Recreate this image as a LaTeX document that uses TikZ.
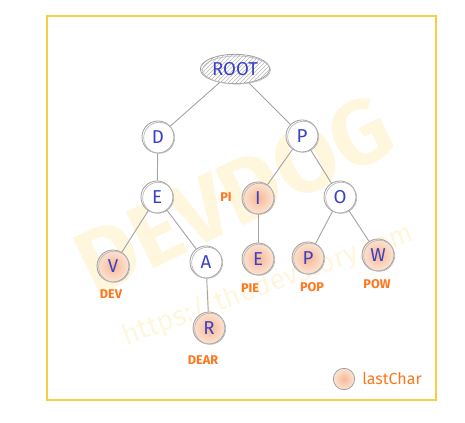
\documentclass[tikz,border=0pt]{standalone}
\usepackage{fontspec}
\setmainfont{Fira Sans}
\usetikzlibrary{shapes.geometric,patterns}

\definecolor{lettercol}{RGB}{58,64,200}
\definecolor{labelcol}{RGB}{255,118,28}
\definecolor{framecol}{RGB}{250,205,70}
\definecolor{edgecol}{RGB}{165,165,165}
\definecolor{markcol}{RGB}{255,246,222}

\tikzset{
  trienode/.style={circle, draw=gray!75, line width=0.6pt, minimum size=24pt, inner sep=0pt, fill=white, text=lettercol, font=\fontsize{14}{14}\selectfont},
  endnode/.style={trienode, inner color={rgb,255:red,247;green,184;blue,148}, outer color={rgb,255:red,252;green,228;blue,212}},
  rootnode/.style={ellipse, draw=gray!75, line width=0.6pt, minimum width=52pt, minimum height=22pt, inner sep=0pt, pattern=north east lines, pattern color=gray!55, text=lettercol, font=\fontsize{14}{14}\selectfont},
  wordlabel/.style={text=labelcol, inner sep=0.75pt, font=\fontsize{9.5}{9.5}\selectfont\bfseries},
  edge/.style={draw=edgecol, line width=0.7pt},
  sketch/.style={draw=gray!55, line width=0.5pt},
}

\begin{document}
\begin{tikzpicture}[x=0.75pt,y=0.75pt,yscale=-1,xscale=1]
\useasboundingbox (0,0) rectangle (465,423);

% Watermark
\node[rotate=26, text=markcol, font=\fontsize{68}{68}\selectfont\bfseries] (mark) at (234,195) {DEVDOG};
\node[rotate=20, text=markcol, font=\fontsize{21}{21}\selectfont] (url) at (268,285) {https://thedevstory.com};

%Shape: Frame
\draw[framecol, line width=1.1pt] (47,16) rectangle (436,400);

% Nodes
\node[rootnode] (root) at (235,69) {ROOT};
\node[trienode] (d) at (158,137) {D};
\node[trienode] (p) at (302,136) {P};
\node[trienode] (e) at (157,197) {E};
\node[endnode] (i) at (258,198) {I};
\node[trienode] (o) at (340,197) {O};
\node[endnode] (v) at (113,266) {V};
\node[trienode] (a) at (206,262) {A};
\node[endnode] (e2) at (258,259) {E};
\node[endnode] (p2) at (308,258) {P};
\node[endnode] (w) at (378,255) {W};
\node[endnode] (r) at (209,328) {R};

% Sketchy second strokes
\draw[sketch] ([shift={(1.5,1)}]root.center) ellipse (34 and 14);
\foreach \n in {d,p,e,i,o,v,a,e2,p2,w,r}
  \draw[sketch] ([shift={(1.2,0.8)}]\n.center) circle (15.5);

% Edges
\foreach \a/\b in {root/d, root/p, d/e, p/i, p/o, e/v, e/a, i/e2, o/p2, o/w, a/r}
  \draw[edge] (\a) -- (\b);

% Text Node
\node[wordlabel] (lpi) at (226,197) {PI};
\node[wordlabel] (ldev) at (111,294) {DEV};
\node[wordlabel] (lpie) at (250,288) {PIE};
\node[wordlabel] (lpop) at (312,287) {POP};
\node[wordlabel] (lpow) at (377,284) {POW};
\node[wordlabel] (ldear) at (203,360) {DEAR};

% Legend
\node[endnode, minimum size=16pt] (key) at (344,379) {};
\node[anchor=west, text=labelcol, inner sep=0.75pt, font=\fontsize{12}{12}\selectfont] (keytext) at (361,379) {lastChar};

\end{tikzpicture}
\end{document}
